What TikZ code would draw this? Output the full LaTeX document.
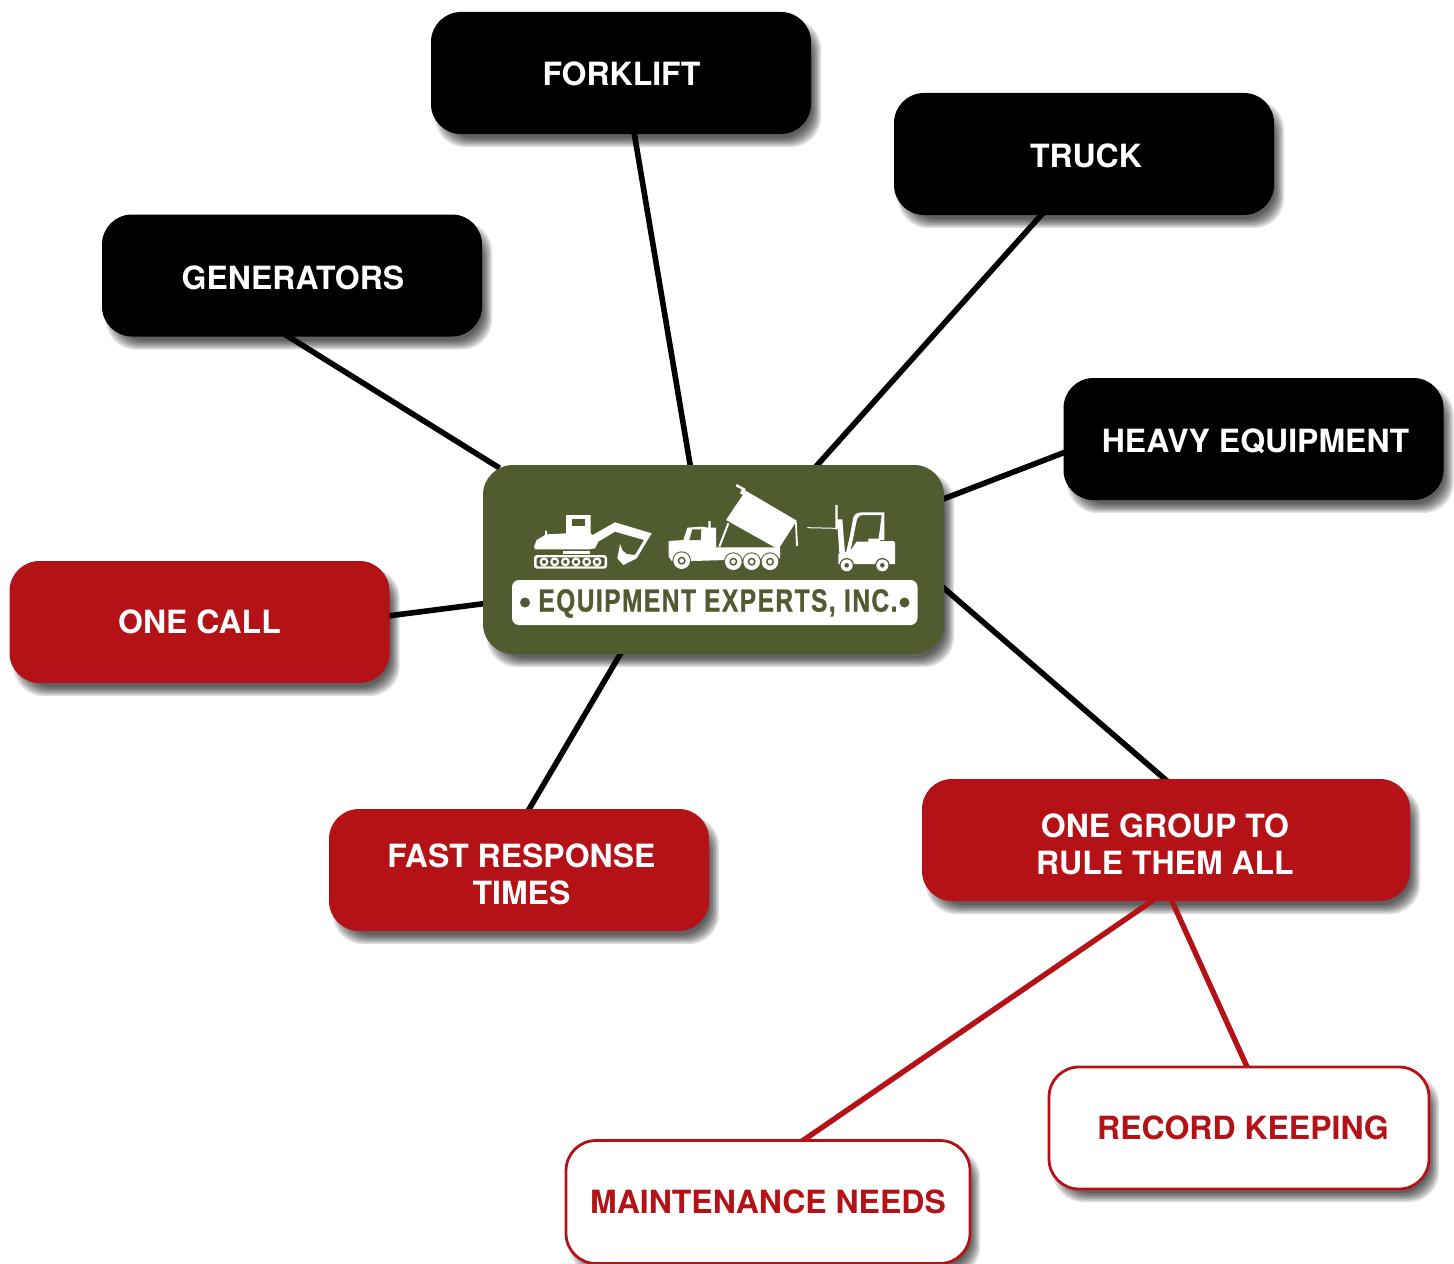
\documentclass[tikz,border=0pt]{standalone}
\usepackage{fontspec}
\setmainfont{TeX Gyre Heros}
\newfontfamily\logofont[FakeStretch=0.76,LetterSpace=5,FakeBold=1]{Liberation Sans}
\usetikzlibrary{backgrounds}
\definecolor{eered}{HTML}{B51218}
\definecolor{eegreen}{HTML}{505B30}
\pgfdeclarelayer{shadowlayer}
\pgfsetlayers{shadowlayer,background,main}
\newcommand\nudge[3]{\kern#1pt\raisebox{#2pt}[\height][\depth]{#3}\kern-#1pt}
\newcommand\twolines[2]{\begin{tabular}{@{}c@{}}#1\\#2\end{tabular}}
\tikzset{
  base/.style={rectangle,rounded corners=15pt,inner sep=0pt,outer sep=0pt,align=center,
     minimum width=190pt,minimum height=61pt,font=\fontsize{16}{18.5}\selectfont\bfseries},
  blackbox/.style={base,fill=black,text=white},
  redbox/.style={base,fill=eered,text=white},
  whitebox/.style={base,fill=white,draw=eered,line width=1.4pt,text=eered},
  hubbox/.style={base,fill=eegreen,minimum width=230.5pt,minimum height=94.5pt},
  blacklink/.style={draw=black,line width=2.8pt},
  redlink/.style={draw=eered,line width=2.7pt},
  logo/.style={fill=white,draw=none},
  logogap/.style={fill=eegreen,draw=none},
  logoline/.style={draw=white,line width=1pt},
}
\begin{document}
\begin{tikzpicture}[x=0.5pt,y=-0.5pt]
\useasboundingbox (0,0) rectangle (1454,1263);
% nodes
\node[blackbox] (forklift) at (621,73) {\nudge{0.2}{-0.25}{FORKLIFT}};
\node[blackbox] (truck) at (1084,154) {\nudge{1}{-1}{TRUCK}};
\node[blackbox] (generators) at (292,275.5) {\nudge{0.5}{-1}{GENERATORS}};
\node[blackbox] (heavy) at (1253.5,439) {\nudge{1}{-1}{HEAVY EQUIPMENT}};
\node[redbox] (onecall) at (199.5,622) {ONE CALL};
\node[redbox] (fast) at (519,870) {\nudge{1.25}{-4.25}{\twolines{FAST RESPONSE}{TIMES}}};
\node[redbox,minimum width=244pt] (group) at (1166,840) {\nudge{-0.5}{-4.25}{\twolines{ONE GROUP TO}{RULE THEM ALL}}};
\node[whitebox,minimum width=190pt,minimum height=61pt] (record) at (1239,1128) {\nudge{2}{0}{RECORD KEEPING}};
\node[whitebox,minimum width=202pt,minimum height=61.5pt] (maint) at (768,1202) {MAINTENANCE NEEDS};
\node[hubbox] (hub) at (713.5,559.5) {};
% connectors
\begin{pgfonlayer}{background}
\draw[blacklink] ([shift={(13,-2)}]forklift.south) -- ([shift={(-23,2)}]hub.north);
\draw[blacklink] ([shift={(-41,-2)}]truck.south) -- ([shift={(102,2)}]hub.north);
\draw[blacklink] ([shift={(-7,-2)}]generators.south) -- ([shift={(-214,3)}]hub.north);
\draw[blacklink] ([shift={(2,13)}]heavy.west) -- ([shift={(-2,-60)}]hub.east);
\draw[blacklink] ([shift={(-2,-6)}]onecall.east) -- ([shift={(2,44)}]hub.west);
\draw[blacklink] ([shift={(9,2)}]fast.north) -- ([shift={(-92,-2)}]hub.south);
\draw[blacklink] ([shift={(1,2)}]group.north) -- ([shift={(-2,27)}]hub.east);
\draw[redlink] ([shift={(-11,-2)}]group.south) -- ([shift={(32,2)}]maint.north);
\draw[redlink] ([shift={(5,-2)}]group.south) -- ([shift={(9,2)}]record.north);
\end{pgfonlayer}
% shadows
\begin{pgfonlayer}{shadowlayer}
\foreach \n in {forklift,truck,generators,heavy,onecall,fast,group,record,maint,hub}
  \foreach \e in {-6,-4.5,...,3}
    \fill[black,opacity=.13,rounded corners=15pt]
      ([shift={(7-\e,10+\e)}]\n.south west) rectangle ([shift={(7+\e,10-\e)}]\n.north east);
\end{pgfonlayer}
% logo: white plate and lettering
\node[fill=white,rounded corners=3.5pt,minimum width=202.75pt,minimum height=22.5pt,inner sep=0pt] (bar) at (714.75,602.5) {};
\node[text=eegreen,inner sep=0pt,font=\fontsize{16}{16}\logofont\bfseries] (logotext) at (718,603.5) {EQUIPMENT EXPERTS, INC.};
\fill[eegreen] (525,602.5) circle (5);
\fill[eegreen] (904.5,602.5) circle (5);
% logo: machines, in coordinates of a threefold enlargement
\begin{scope}[shift={(480,460)},x=0.1666667pt,y=-0.1666667pt]
% excavator
\fill[logo,rounded corners=1.5pt] (162,285) rectangle (381,326);
\fill[logogap,rounded corners=1pt] (170,292) rectangle (374,319);
\foreach \cx in {192,224,256,288,320,351} {
  \fill[logo] (\cx,305.5) circle (13.5);
  \fill[logogap] (\cx,305.5) circle (6);
}
\fill[logo] (248,272) rectangle (330,282);
\fill[logo] (165,268) -- (162,260) -- (170,240) -- (195,225) -- (195,212) -- (200,212) -- (202,223)
  -- (258,220) -- (258,165) -- (332,165) -- (332,220) -- (338,225) -- (405,187) -- (515,220)
  -- (470,295) -- (430,315) -- (412,295) -- (420,252) -- (428,272) -- (440,282) -- (465,285)
  -- (492,240) -- (405,215) -- (355,245) -- (345,265) -- (328,268) -- cycle;
\fill[logogap] (275,178) rectangle (315,198);
% dump truck
\fill[logo] (566,290) -- (566,243) -- (610,240) -- (622,203) -- (665,200) -- (685,203) -- (685,183)
  -- (692,183) -- (692,203) -- (708,203) -- (708,262) -- (900,262) -- (900,295) -- (640,303) -- (575,303) -- cycle;
\fill[logogap] (637,208) -- (664,208) -- (662,240) -- (628,240) -- cycle;
\fill[logo] (797,92) -- (950,182) -- (895,268) -- (738,180) -- cycle;
\fill[logo] (770,72) -- (797,87) -- (794,93) -- (767,79) -- cycle;
\fill[logo] (786,85) -- (796,90) -- (790,105) -- (780,100) -- cycle;
\draw[logoline] (745,190) -- (718,260);
\fill[logo] (945,185) -- (950,185) -- (954,258) -- (948,258) -- cycle;
\foreach \cx/\cy in {605/302,760/305,815/305,870/305} {
  \fill[logogap] (\cx,\cy) circle (28);
  \fill[logo] (\cx,\cy) circle (25);
  \fill[logogap] (\cx,\cy) circle (12);
  \fill[logo] (\cx,\cy) circle (7);
}
% forklift
\draw[white,line width=.5pt] (982,203) -- (1070,205);
\fill[logo] (1066,135) -- (1073,135) -- (1073,178) -- (1087,178) -- (1095,280) -- (1078,280) -- (1073,208) -- (1066,208) -- cycle;
\fill[logo] (1110,225) -- (1120,172) .. controls (1125,160) and (1135,157) .. (1150,157) -- (1213,157) -- (1213,240)
  -- (1195,240) -- (1200,205) -- (1205,165) -- (1150,165) .. controls (1138,165) and (1132,172) .. (1130,182) -- (1120,230) -- cycle;
\fill[logo] (1098,278) -- (1111,222) -- (1121,226) -- (1110,278) -- cycle;
\fill[logo] (1085,276) -- (1108,276) -- (1130,245) -- (1165,245) -- (1165,236) -- (1198,236) -- (1200,243)
  -- (1240,243) -- (1245,248) -- (1245,312) -- (1075,312) -- (1075,282) -- cycle;
\foreach \cx in {1100,1207} {
  \fill[logogap] (\cx,316) circle (22);
  \fill[logo] (\cx,316) circle (18);
  \fill[logogap] (\cx,316) circle (7);
}
\end{scope}
\end{tikzpicture}
\end{document}
